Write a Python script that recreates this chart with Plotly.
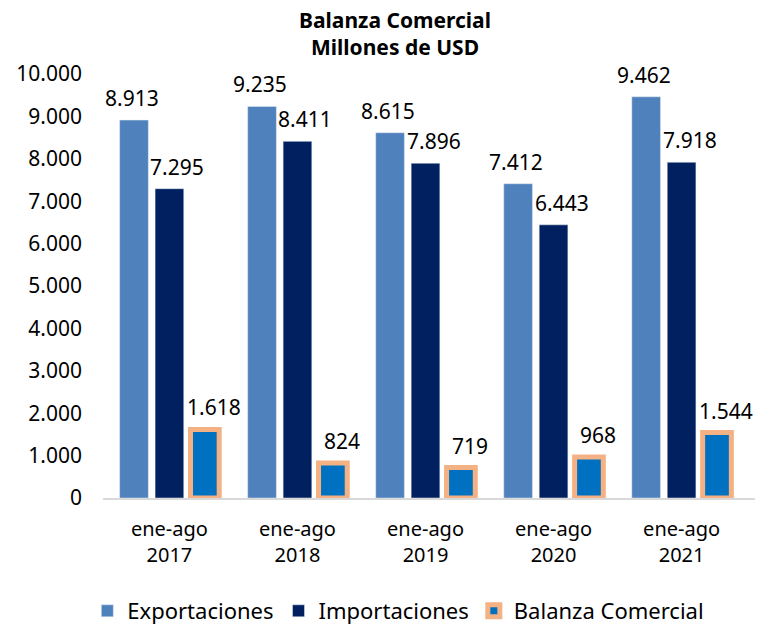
import plotly.graph_objects as go

categories = ["ene-ago<br>2017", "ene-ago<br>2018", "ene-ago<br>2019", "ene-ago<br>2020", "ene-ago<br>2021"]
exportaciones = [8913, 9235, 8615, 7412, 9462]
importaciones = [7295, 8411, 7896, 6443, 7918]
balanza = [1618, 824, 719, 968, 1544]
y_ticks = [0, 1000, 2000, 3000, 4000, 5000, 6000, 7000, 8000, 9000, 10000]

FONT = "Noto Sans"
LABEL_SIZE = 21
BARGAP = 0.17
BARGROUPGAP = 0.19
PLOT_H = 625 - 74 - 127

series = [
    ("Exportaciones", exportaciones, dict(color="#4F81BD"), -1, -2),
    ("Importaciones", importaciones, dict(color="#002060"), 0, 8),
    ("Balanza Comercial", balanza, dict(color="#0070C0", line=dict(color="#F4B183", width=5)), 1, 9),
]

fig = go.Figure()
annotations = []
slot = (1 - BARGAP) / 3.0
for name, vals, marker, k, xs in series:
    fig.add_trace(go.Bar(name=name, x=categories, y=vals, marker=marker, cliponaxis=False))
    for i, v in enumerate(vals):
        annotations.append(dict(
            x=i + k * slot, y=v, xref="x", yref="y", text=f"{v:,}".replace(",", "."),
            showarrow=False, yanchor="bottom", xanchor="center", yshift=6, xshift=xs,
            font=dict(size=LABEL_SIZE, family=FONT, color="black")))

annotations.append(dict(
    text="<b>Balanza Comercial</b>", xref="paper", yref="paper", x=0.448, y=1.0 + (74 - 20) / PLOT_H,
    yanchor="middle", xanchor="center", showarrow=False,
    font=dict(size=21, family=FONT, color="black")))
annotations.append(dict(
    text="<b>Millones de USD</b>", xref="paper", yref="paper", x=0.448, y=1.0 + (74 - 47) / PLOT_H,
    yanchor="middle", xanchor="center", showarrow=False,
    font=dict(size=21, family=FONT, color="black")))

fig.update_layout(
    width=766, height=625,
    separators=",.",
    barmode="group", bargap=BARGAP, bargroupgap=BARGROUPGAP,
    plot_bgcolor="white", paper_bgcolor="white",
    margin=dict(l=103, r=11, t=74, b=127),
    font=dict(family=FONT, size=20, color="black"),
    annotations=annotations,
    legend=dict(orientation="h", x=0.52, xref="container", xanchor="center",
                y=(625 - 611) / 625.0, yref="container", yanchor="middle",
                font=dict(size=22, family=FONT), itemwidth=30, traceorder="normal"),
    showlegend=True,
)
fig.update_yaxes(range=[0, 10000], tickvals=y_ticks, tickformat=",.0f", showgrid=False,
                 zeroline=False, showline=False, ticks="", tickfont=dict(size=21),
                 ticklabelstandoff=20, automargin=False)
fig.update_xaxes(showline=True, linecolor="#D9D9D9", linewidth=2, ticks="", showgrid=False,
                 tickfont=dict(size=20), ticklabelstandoff=12, automargin=False)
fig.write_html("out.html", config={"displayModeBar": False},
               post_script="document.body.style.margin='0';document.body.style.padding='0';"
                           "document.documentElement.style.overflow='hidden';")
